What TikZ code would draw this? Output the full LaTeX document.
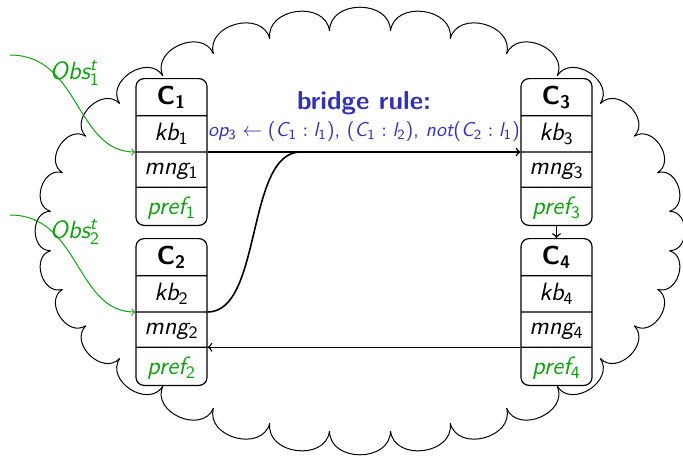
\documentclass[tikz,border=0pt]{standalone}
\usetikzlibrary{shapes.multipart,calc}
\newcommand\tv[2]{{\slshape #1}\textsubscript{\upshape #2}}
\newcommand\hd[1]{{\bfseries C}\textsubscript{\bfseries #1}}
\newcommand\prt[3]{\rule[-#1]{0pt}{#2}#3}
\newcommand\scr[1]{\mbox{\fontsize{8.8}{9}\selectfont\sffamily #1}}
\definecolor{rulblue}{RGB}{51,51,178}
\definecolor{obsgreen}{RGB}{20,160,20}
\begin{document}
\begin{tikzpicture}[x=0.5pt,y=-0.5pt,
  ctx/.style={rectangle split, rectangle split parts=4, draw, fill=white,
    rounded corners=4pt, text width=35.5pt, align=center, inner xsep=0pt,
    inner ysep=0pt, line width=0.6pt, anchor=north, font=\fontsize{12.5}{14}\selectfont\sffamily},
  conn/.style={->, line width=0.7pt},
  obsline/.style={->, obsgreen, line width=0.5pt},
  cloudline/.style={line width=0.5pt},
  lbl/.style={inner sep=0pt}]
\useasboundingbox (0,0) rectangle (683,456);
% cloud
\foreach \k in {0,...,31}{
  \pgfmathsetmacro\a{5.625+11.25*\k}
  \pgfmathsetmacro\b{\a+11.25}
  \pgfmathsetmacro\px{360+311*cos(\a)}
  \pgfmathsetmacro\py{231+201*sin(\a)}
  \pgfmathsetmacro\qx{360+311*cos(\b)}
  \pgfmathsetmacro\qy{231+201*sin(\b)}
  \pgfmathsetmacro\nx{0.52*(\qy-\py)}
  \pgfmathsetmacro\ny{-0.52*(\qx-\px)}
  \draw[cloudline] (\px,\py) .. controls ({\px+\nx},{\py+\ny}) and ({\qx+\nx},{\qy+\ny}) .. (\qx,\qy);
}
% contexts
\newcommand\ctxbody[1]{%
  \prt{5.5pt}{18pt}{\fontsize{13}{15}\selectfont\hd{#1}}
  \nodepart{two}\prt{5.5pt}{17.5pt}{\tv{kb}{#1}}
  \nodepart{three}\prt{6pt}{17pt}{\tv{mng}{#1}}
  \nodepart{four}\prt{5pt}{18.5pt}{\color{obsgreen}\tv{pref}{#1}}}
\node[ctx] (c1) at (171.5,78) {\ctxbody{1}};
\node[ctx] (c2) at (171.5,238) {\ctxbody{2}};
\node[ctx] (c3) at (556.5,78) {\ctxbody{3}};
\node[ctx] (c4) at (556.5,238) {\ctxbody{4}};
% bridge rule
\node[lbl, rulblue, font=\fontsize{13}{15}\selectfont\sffamily\bfseries] (br) at (364,103) {bridge rule:};
\node[lbl, rulblue, font=\fontsize{10}{12}\selectfont\sffamily] (rule) at (364,131)
  {\tv{op}{3}${}\leftarrow{}$(\tv{C}{1}${}:{}$\tv{l}{1}), (\tv{C}{1}${}:{}$\tv{l}{2}), {\slshape not}(\tv{C}{2}${}:{}$\tv{l}{1})};
% connectors
\coordinate (merge) at ($(c1.two split east)+(93,0)$);
\draw[conn] (c1.two split east) -- (c3.two split west);
\draw[line width=0.8pt] (c2.two split east) .. controls +(55,0) and +(-55,0) .. (merge);
\draw[conn] (c4.three split west) -- (c2.three split east);
\draw[conn] (c3.south) -- (c4.north);
% observations
\coordinate (o1) at (10,55);
\coordinate (o2) at (10,215);
\draw[obsline] (o1) .. controls +(70,0) and +(-60,0) .. (c1.two split west);
\draw[obsline] (o2) .. controls +(70,0) and +(-60,0) .. (c2.two split west);
\node[lbl, obsgreen, font=\fontsize{12.5}{14}\selectfont\sffamily\slshape] (ob1) at (75,73) {Obs$^{\scr{\slshape t}}_{\scr{\upshape 1}}$};
\node[lbl, obsgreen, font=\fontsize{12.5}{14}\selectfont\sffamily\slshape] (ob2) at (75,232) {Obs$^{\scr{\slshape t}}_{\scr{\upshape 2}}$};
\end{tikzpicture}
\end{document}
